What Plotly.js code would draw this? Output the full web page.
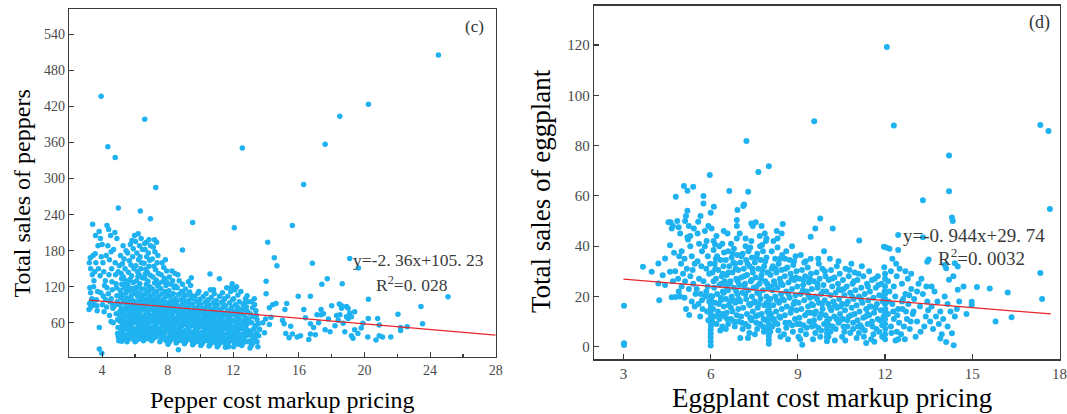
<!DOCTYPE html>
<html>
<head>
<meta charset="utf-8">
<script src="https://cdn.plot.ly/plotly-3.0.1.min.js"></script>
<style>
html,body{margin:0;padding:0;background:#fff;}
#chart{width:1067px;height:414px;}
</style>
</head>
<body>
<div id="chart"></div>
<script>
// ---------- Panel (c): pepper  [markup pricing, total sales] ----------
const pepperPoints = [
[3.22,160],[3.28,168],[3.3,150],[3.25,118],[3.3,110],[3.24,92],[3.32,86],[3.2,82],[3.38,100],[3.42,224],[3.4,140],[3.45,172],[3.5,130],[3.48,120],[3.55,145],[3.58,175],[3.6,205],[3.62,160],[3.65,98],[3.68,88],[3.7,80],[3.72,112],[3.75,188],[3.78,150],[3.35,96],[3.52,90],
[3.83,52],[3.83,16],[3.98,9],[3.94,437],[3.82,212],[3.9,200],[3.95,170],[4.0,190],[4.05,160],[3.88,138],[4.1,145],[4.15,122],[4.2,130],[3.92,110],[4.08,104],[4.22,98],[4.02,90],[4.28,86],[4.3,222],[4.35,188],[4.4,215],[4.42,140],[4.45,165],[4.3,118],[4.38,108],[4.48,95],[4.25,172],[4.35,353],[4.12,78],[4.45,72],
[4.52,205],[4.55,178],[4.58,150],[4.6,128],[4.62,115],[4.56,100],[4.64,90],[4.66,84],[4.55,62],[4.68,60],[4.7,182],[4.8,335],[4.78,210],[4.8,160],[4.82,140],[4.85,125],[4.88,118],[4.9,105],[4.92,95],[4.76,88],[4.86,75],[4.95,65],[4.9,200],[4.99,251],[4.98,145],[4.97,52],[4.94,42],[4.99,36],
[5.02,30],[5.1,34],[5.05,38],[5.2,41],[5.15,45],[5.3,48],[5.08,52],[5.25,55],[5.4,58],[5.12,62],[5.35,65],[5.22,68],[5.45,71],[5.03,74],[5.28,77],[5.38,80],[5.18,84],[5.48,87],[5.06,90],[5.32,93],[5.42,97],[5.14,101],[5.26,105],[5.46,110],[5.1,114],[5.36,118],[5.2,124],[5.44,130],[5.3,136],[5.16,142],[5.4,150],[5.24,158],[5.34,166],[5.12,172],[5.46,180],[5.28,188],[5.38,40],[5.44,33],[5.2,29],[5.34,57],[5.48,62],[5.06,66],[5.16,108],[5.4,122],[5.05,155],
[5.52,28],[5.6,32],[5.7,36],[5.55,40],[5.8,43],[5.65,46],[5.9,50],[5.58,53],[5.75,56],[5.85,59],[5.62,62],[5.95,65],[5.72,68],[5.54,71],[5.88,74],[5.68,77],[5.8,80],[5.57,84],[5.92,87],[5.74,90],[5.64,94],[5.86,97],[5.52,101],[5.78,105],[5.96,109],[5.66,113],[5.84,117],[5.58,122],[5.9,127],[5.7,132],[5.8,138],[5.6,144],[5.94,150],[5.76,156],[5.66,163],[5.86,170],[5.56,176],[5.9,183],[5.72,190],[5.82,197],[5.98,205],[5.62,48],[5.86,38],[5.94,31],[5.7,84],[5.96,92],[5.55,115],
[6.02,28],[6.1,31],[6.2,35],[6.05,38],[6.3,41],[6.15,44],[6.4,47],[6.08,50],[6.25,53],[6.35,56],[6.12,59],[6.45,62],[6.22,65],[6.04,68],[6.38,71],[6.18,74],[6.3,77],[6.07,80],[6.42,83],[6.24,86],[6.14,89],[6.36,92],[6.02,95],[6.28,98],[6.46,101],[6.16,104],[6.34,108],[6.08,112],[6.4,116],[6.2,120],[6.3,125],[6.1,130],[6.44,135],[6.26,140],[6.16,145],[6.36,150],[6.06,155],[6.4,160],[6.22,165],[6.32,170],[6.12,176],[6.46,182],[6.28,188],[6.04,195],[6.38,200],[6.2,208],[6.33,246],[6.14,42],[6.42,36],[6.32,63],[6.48,88],[6.06,118],[6.26,33],
[6.52,30],[6.6,33],[6.7,37],[6.55,40],[6.8,43],[6.65,46],[6.9,49],[6.58,52],[6.75,55],[6.85,58],[6.62,61],[6.95,64],[6.72,67],[6.54,70],[6.88,73],[6.68,76],[6.8,79],[6.57,82],[6.92,85],[6.74,88],[6.64,91],[6.86,94],[6.52,97],[6.78,100],[6.96,104],[6.66,108],[6.84,112],[6.58,116],[6.9,120],[6.7,124],[6.8,129],[6.6,134],[6.94,139],[6.76,144],[6.66,149],[6.86,154],[6.56,159],[6.9,164],[6.72,170],[6.82,176],[6.62,182],[6.96,188],[6.7,194],[6.6,192],[6.86,198],[6.6,399],[6.95,233],[6.74,47],[6.92,36],[6.62,80],[6.84,102],
[7.02,30],[7.1,33],[7.2,37],[7.05,40],[7.3,43],[7.15,46],[7.4,49],[7.08,52],[7.25,55],[7.35,58],[7.12,61],[7.45,64],[7.22,67],[7.04,70],[7.38,73],[7.18,76],[7.3,79],[7.07,82],[7.42,85],[7.24,88],[7.14,91],[7.36,94],[7.02,97],[7.28,100],[7.46,104],[7.16,108],[7.34,112],[7.08,116],[7.4,121],[7.2,126],[7.3,131],[7.1,136],[7.44,142],[7.26,148],[7.16,154],[7.36,160],[7.06,166],[7.4,172],[7.22,178],[7.12,186],[7.32,194],[7.2,198],[7.27,285],[7.28,36],[7.44,44],[7.12,72],[7.48,90],
[7.52,28],[7.6,32],[7.7,35],[7.55,39],[7.8,42],[7.65,45],[7.9,48],[7.58,51],[7.75,54],[7.85,57],[7.62,60],[7.95,63],[7.72,66],[7.54,69],[7.88,72],[7.68,75],[7.8,78],[7.57,81],[7.92,84],[7.74,87],[7.64,90],[7.86,93],[7.52,96],[7.78,100],[7.96,104],[7.66,108],[7.84,112],[7.58,117],[7.9,122],[7.7,128],[7.8,134],[7.6,140],[7.94,146],[7.76,152],[7.66,160],[7.86,165],[7.7,41],[7.9,30],[7.62,86],[7.98,110],
[8.02,24],[8.1,28],[8.2,31],[8.05,35],[8.3,38],[8.15,41],[8.4,44],[8.08,47],[8.25,50],[8.35,53],[8.12,56],[8.45,59],[8.22,62],[8.04,65],[8.38,68],[8.18,71],[8.3,74],[8.07,77],[8.42,80],[8.24,83],[8.14,86],[8.36,89],[8.02,92],[8.28,96],[8.46,100],[8.16,104],[8.34,108],[8.08,113],[8.4,118],[8.2,124],[8.3,130],[8.1,136],[8.44,142],[8.26,146],[8.36,44],[8.48,32],[8.12,95],[8.44,65],
[8.52,26],[8.6,29],[8.7,33],[8.55,36],[8.8,39],[8.65,42],[8.9,45],[8.58,48],[8.75,51],[8.85,54],[8.62,57],[8.95,60],[8.72,63],[8.54,66],[8.88,69],[8.68,72],[8.8,75],[8.57,78],[8.92,81],[8.74,84],[8.64,87],[8.86,90],[8.52,94],[8.78,98],[8.96,102],[8.66,107],[8.84,112],[8.58,118],[8.9,124],[8.7,130],[8.65,15],[8.62,140],[8.68,41],[8.98,34],[8.82,62],[8.9,181],
[9.02,25],[9.1,28],[9.2,32],[9.05,35],[9.3,38],[9.15,41],[9.4,44],[9.08,47],[9.25,50],[9.35,53],[9.12,56],[9.45,59],[9.22,62],[9.04,65],[9.38,68],[9.18,71],[9.3,74],[9.07,77],[9.42,80],[9.24,83],[9.14,86],[9.36,89],[9.02,93],[9.28,97],[9.46,101],[9.16,106],[9.34,111],[9.08,116],[9.4,122],[9.44,135],[9.26,128],[9.48,30],[9.34,44],[9.12,68],
[9.52,23],[9.6,26],[9.7,30],[9.55,33],[9.8,36],[9.65,39],[9.9,42],[9.58,45],[9.75,48],[9.85,51],[9.62,54],[9.95,57],[9.72,60],[9.54,63],[9.88,66],[9.68,69],[9.8,72],[9.57,75],[9.92,78],[9.74,81],[9.64,84],[9.86,87],[9.52,91],[9.78,95],[9.96,99],[9.66,104],[9.84,109],[9.52,227],[9.9,112],[9.7,28],[9.94,40],[9.6,100],
[10.02,22],[10.1,25],[10.2,29],[10.05,32],[10.3,35],[10.15,38],[10.4,41],[10.08,44],[10.25,47],[10.35,50],[10.12,53],[10.45,56],[10.22,59],[10.04,62],[10.38,65],[10.18,68],[10.3,71],[10.07,74],[10.42,77],[10.24,80],[10.14,83],[10.36,86],[10.02,90],[10.28,94],[10.46,98],[10.16,103],[10.34,108],[10.44,30],[10.26,36],[10.1,57],[10.48,88],
[10.52,21],[10.6,24],[10.7,28],[10.55,31],[10.8,34],[10.65,37],[10.9,40],[10.58,43],[10.75,46],[10.85,49],[10.62,52],[10.95,55],[10.72,58],[10.54,61],[10.88,64],[10.68,67],[10.8,70],[10.57,73],[10.92,76],[10.74,79],[10.64,82],[10.86,85],[10.52,89],[10.78,93],[10.96,97],[10.66,102],[10.84,108],[10.58,141],[10.6,115],[10.8,115],[10.94,26],[10.8,60],
[11.02,20],[11.1,23],[11.2,27],[11.05,30],[11.3,33],[11.15,36],[11.4,39],[11.08,42],[11.25,45],[11.35,48],[11.12,51],[11.45,54],[11.22,57],[11.04,60],[11.38,63],[11.18,66],[11.3,69],[11.07,72],[11.42,75],[11.24,78],[11.14,81],[11.36,85],[11.02,89],[11.28,94],[11.46,99],[11.16,104],[11.34,110],[11.15,133],[11.44,100],[11.48,26],[11.1,48],
[11.52,19],[11.6,22],[11.7,26],[11.55,29],[11.8,32],[11.65,35],[11.9,38],[11.58,41],[11.75,44],[11.85,47],[11.62,50],[11.95,53],[11.72,56],[11.54,59],[11.88,62],[11.68,65],[11.8,68],[11.57,71],[11.92,74],[11.74,77],[11.64,80],[11.86,84],[11.52,88],[11.78,93],[11.96,98],[11.66,104],[11.84,112],[11.9,119],[11.93,125],[11.6,118],[11.7,20],[11.94,30],
[12.02,20],[12.1,24],[12.2,28],[12.05,31],[12.3,34],[12.15,38],[12.4,41],[12.08,44],[12.25,47],[12.35,50],[12.12,54],[12.45,57],[12.22,60],[12.04,63],[12.38,66],[12.18,70],[12.3,74],[12.07,78],[12.42,82],[12.24,86],[12.14,90],[12.36,95],[12.02,100],[12.28,106],[12.46,112],[12.2,120],[12.06,218],[12.1,115],[12.34,24],
[12.52,22],[12.6,26],[12.7,30],[12.55,34],[12.8,38],[12.65,42],[12.9,46],[12.58,50],[12.75,54],[12.85,58],[12.62,62],[12.95,66],[12.72,70],[12.54,74],[12.88,78],[12.68,82],[12.8,86],[12.6,90],[12.92,95],[12.74,100],[12.84,105],[12.55,351],[12.9,28],[12.66,92],
[13.02,18],[13.1,22],[13.2,26],[13.05,30],[13.3,34],[13.15,38],[13.4,42],[13.08,46],[13.25,50],[13.35,55],[13.12,60],[13.45,65],[13.22,70],[13.04,75],[13.38,80],[13.18,85],[13.3,90],[13.5,20],[13.45,28],[13.55,38],[13.12,95],[13.28,100],[13.4,72],[13.52,58],[13.58,48],
[14.1,194],[14.5,168],[14.66,155],[14.0,129],[14.0,108],[15.96,104],[16.7,104],[14.4,90],[14.2,85],[14.6,92],[15.26,92],[15.15,82],[16.3,82],[17.35,82],[17.35,73],[17.1,73],[18.6,88],[19.0,84],[18.5,73],[18.9,70],[13.97,66],[14.3,69],[15.0,64],[13.8,60],[14.2,57],[15.1,58],[15.5,54],[16.7,58],[13.6,49],[13.9,43],[15.2,42],[15.6,41],[16.1,38],[16.7,41],[15.4,35],[15.9,36],
[16.9,52],[17.2,60],[17.5,75],[17.8,66],[18.0,88],[18.2,55],[17.0,40],[16.6,32],[17.9,45],[18.3,72],[16.4,68],[17.6,48],
[18.46,91],[18.6,84],[18.9,87],[19.1,76],[19.4,78],[19.0,67],[19.2,70],[20.23,67],[20.8,67],[18.4,64],[18.7,59],[19.9,59],[20.9,56],[22.2,52],[22.6,53],[18.8,45],[19.4,48],[19.8,51],[19.2,38],[19.6,42],[19.3,34],[20.2,36],[20.7,31],[20.9,38],[21.1,36],[21.6,36],[22.2,47],
[24.51,506],[20.24,424],[18.49,404],[17.6,357],[16.29,290],[15.6,222],[16.82,159],[19.1,167],[19.63,151],[17.73,133],[17.4,124],[18.64,125],[25.09,103],[20.24,99],[23.44,87],[23.54,58],[22.04,74]
];
// additional points (c)
const pepperCorePoints = [
[5.23,35],[5.41,52],[5.09,79],[5.29,96],[5.47,116],[5.19,133],
[5.63,35],[5.83,66],[5.71,99],[5.59,129],[5.97,81],[5.77,44],
[6.09,45],[6.29,72],[6.47,106],[6.19,137],[6.43,57],[6.33,86],
[6.59,42],[6.83,68],[6.71,92],[6.93,118],[6.63,141],[6.79,33],
[7.09,47],[7.33,65],[7.21,99],[7.47,126],[7.13,82],[7.39,39],
[7.59,44],[7.83,62],[7.71,96],[7.93,128],[7.63,76],[7.81,34],
[8.09,52],[8.31,66],[8.21,91],[8.47,121],[8.13,38],[8.39,79],
[8.59,40],[8.81,58],[8.71,86],[8.93,109],[8.63,70],[8.87,30],
[9.09,38],[9.31,57],[9.21,79],[9.47,105],[9.13,95],[9.39,33],
[9.59,37],[9.81,55],[9.71,77],[9.93,92],[9.63,66],[9.87,29],
[10.09,35],[10.31,52],[10.21,76],[10.43,96],[10.13,28],[10.39,67],
[10.59,34],[10.81,52],[10.71,75],[10.91,88],[10.63,45],[10.87,29],
[11.09,33],[11.31,51],[11.21,74],[11.43,90],[11.13,25],[11.39,62],
[11.59,33],[11.81,50],[11.71,72],[11.91,86],[11.63,24],[11.87,42],
[12.11,36],[12.33,56],[12.21,80],[12.41,30],[12.17,46],
[12.61,36],[12.83,48],[12.71,64],[12.93,40],[12.57,30]
];
const pepperFit = {slope: -2.36, intercept: 105.23};
const pepperFitRange = [3.2, 28];

// ---------- Panel (d): eggplant  [markup pricing, total sales] ----------
const eggplantPoints = [
[3.02,16.3],[3.02,1.4],[3.02,0.7],
[3.67,31.8],[3.97,29.8],[4.2,33.1],[4.35,28.4],[4.2,25.1],[4.43,24.5],[4.23,18.5],[4.6,29.8],[4.43,35.1],[4.6,40.4],[4.55,49.5],
[4.62,49.5],[4.66,47],[4.7,48],[4.8,59.6],[4.74,37.4],[4.85,50],[4.9,47.5],[4.95,45],[5.08,63.9],[5.2,62],[5.4,63.6],[5.2,54.1],[5.15,52],[5.12,50],[5.25,48],[5.2,43.5],[5.22,42.6],[5.3,40],[5.0,38],[4.92,36],[5.1,35],[5.35,36],[4.98,33],[5.18,31],[5.45,33],[5.05,29],[5.3,28],[4.88,27],[5.12,26],[5.4,25],[5.0,24],[5.25,23],[4.9,22],[5.48,21],[4.66,19.7],[4.8,19.8],[4.95,20],[5.1,19.5],[5.26,12.6],[5.35,18],[5.45,16],[5.15,15],[5.3,44],[5.42,47],[4.78,30],[4.7,26],[5.38,30.5],
[5.57,49.7],[5.75,59.9],[5.75,57],[5.64,12],[5.55,45],[5.6,41],[5.7,38],[5.8,40],[5.9,36],[5.55,34],[5.68,32],[5.85,31],[5.95,29],[5.6,27],[5.75,26],[5.9,24],[5.52,23],[5.66,21],[5.82,20],[5.95,18],[5.58,17],[5.72,15],[5.88,14],[5.8,46],[5.92,48],[5.65,52],[5.85,22],[5.98,33],[5.7,18.5],[5.92,10.5],[5.97,68.3],[5.86,42],
[6.0,0.5],[6.0,2.2],[6.0,3.8],[6.0,5.3],[6.0,6.8],[6.01,8.2],[6.0,9.6],[6.0,11],[6.01,12.4],[6.0,13.8],[6.0,15.3],[6.0,17],[6.01,18.6],[6.0,20.2],[6.0,53.3],[6.03,47],[6.11,55.7],[6.1,42],[6.15,40.7],
[6.05,10],[6.12,12],[6.2,9],[6.3,11],[6.4,13],[6.08,15],[6.25,14],[6.45,16],[6.15,17.5],[6.35,18.5],[6.05,20],[6.22,21],[6.42,22],[6.12,23.5],[6.3,24.5],[6.48,26],[6.18,27],[6.38,28],[6.06,29.5],[6.26,30.5],[6.44,32],[6.14,33],[6.34,34.5],[6.22,36],[6.46,37.5],[6.1,38.5],[6.3,40],[6.4,41],[6.2,44],[6.45,46],[6.35,19.5],[6.1,26],[6.28,17],[6.48,12],[6.4,8],[6.16,31],[6.36,25],
[6.52,7],[6.6,9],[6.7,11],[6.8,10],[6.9,12.5],[6.55,13.5],[6.75,14],[6.95,15],[6.62,16.5],[6.85,17.5],[6.52,19],[6.72,20],[6.92,21],[6.6,22.5],[6.8,23.5],[6.98,24.5],[6.68,26],[6.88,27],[6.55,28.5],[6.75,29.5],[6.95,30.5],[6.64,32],[6.84,33],[6.52,34.5],[6.72,35.5],[6.92,36.5],[6.6,38],[6.8,39],[6.7,41],[6.9,43],[6.64,61.9],[6.92,54.4],[6.9,50.4],[6.9,48],[6.58,45],[6.78,18.5],[6.66,25],[6.86,31],[6.96,10],[6.54,24],[6.76,37],
[7.02,3.5],[7.1,7],[7.2,9],[7.3,8],[7.4,10.5],[7.05,12],[7.25,13],[7.45,14],[7.12,15.5],[7.35,16.5],[7.02,18],[7.22,19],[7.42,20],[7.1,21.5],[7.3,22.5],[7.48,23.5],[7.18,25],[7.38,26],[7.05,27.5],[7.25,28.5],[7.45,29.5],[7.14,31],[7.34,32],[7.02,33.5],[7.22,34.5],[7.42,35.5],[7.1,37],[7.3,38],[7.2,40],[7.4,42],[7.0,45],[7.2,43],[7.23,81.8],[7.29,61.6],[7.15,56.6],[7.12,56],[7.4,49],[7.45,48],[7.32,17],[7.16,24],[7.44,31],[7.36,11.5],[7.28,3.5],
[7.52,5],[7.6,7],[7.7,9],[7.8,8],[7.9,10.5],[7.55,12],[7.75,13],[7.95,14],[7.62,15.5],[7.85,16.5],[7.52,18],[7.72,19],[7.92,20],[7.6,21.5],[7.8,22.5],[7.98,23.5],[7.68,25],[7.88,26],[7.55,27.5],[7.75,28.5],[7.95,29.5],[7.64,31],[7.84,32],[7.52,33.5],[7.72,34.5],[7.92,35.5],[7.6,37],[7.8,38],[7.7,40],[7.9,42],[7.55,49.5],[7.64,69.5],[7.75,48],[7.86,45],[7.92,43],[7.66,17],[7.82,11],[7.58,24],[7.78,30.5],[7.94,25],
[8.0,1.2],[8.0,2.8],[8.0,4.3],[8.0,5.8],[8.01,7.3],[8.0,8.8],[8.0,10.3],[8.01,11.8],[8.0,13.3],[8.0,14.8],[8.0,16.5],[8.0,18.2],[8.0,71.8],
[8.05,6],[8.12,8],[8.2,10],[8.3,9],[8.4,11.5],[8.08,13],[8.25,14],[8.45,15],[8.15,16.5],[8.35,17.5],[8.05,19],[8.22,20],[8.42,21],[8.12,22.5],[8.3,23.5],[8.48,24.5],[8.18,26],[8.38,27],[8.06,28.5],[8.26,29.5],[8.44,30.5],[8.14,32],[8.34,33],[8.22,35],[8.46,36.5],[8.1,38],[8.3,39.5],[8.44,45],[8.48,48.8],[8.3,43],[8.4,4],[8.36,12],[8.2,25],[8.1,31],[8.28,18.5],
[8.52,5],[8.6,7.5],[8.7,9.5],[8.8,8.5],[8.9,11],[8.55,12.5],[8.75,13.5],[8.95,14.5],[8.62,16],[8.85,17],[8.52,18.5],[8.72,19.5],[8.92,20.5],[8.6,22],[8.8,23],[8.98,24],[8.68,25.5],[8.88,26.5],[8.55,28],[8.75,29],[8.95,30],[8.64,31.5],[8.84,32.5],[8.72,34.5],[8.92,36],[8.6,38],[8.8,40],[8.66,3],[8.9,18],[8.78,27],[8.56,35],
[9.02,4],[9.1,6.5],[9.2,8.5],[9.3,7.5],[9.4,10],[9.05,11.5],[9.25,12.5],[9.45,13.5],[9.12,15],[9.35,16],[9.02,17.5],[9.22,18.5],[9.42,19.5],[9.1,21],[9.3,22],[9.48,23],[9.18,24.5],[9.38,25.5],[9.05,27],[9.25,28],[9.45,29],[9.14,30.5],[9.34,31.5],[9.22,33.5],[9.44,35],[9.1,36.5],[9.44,43.7],[9.15,0.8],[9.28,5],[9.36,20.5],[9.2,26.5],
[9.52,3],[9.6,5.5],[9.7,7.5],[9.8,6.5],[9.9,9],[9.55,10.5],[9.75,11.5],[9.95,12.5],[9.62,14],[9.85,15],[9.52,16.5],[9.72,17.5],[9.92,18.5],[9.6,20],[9.8,21],[9.98,22],[9.68,23.5],[9.88,24.5],[9.55,26],[9.75,27],[9.95,28],[9.64,29.5],[9.84,31],[9.72,33],[9.56,89.7],[9.77,51],[9.6,47],[9.7,35],[9.9,38],[9.8,13],[9.66,19],
[10.0,2.2],[10.0,3.8],[10.0,5.4],[10.0,7],[10.0,8.6],[10.0,10.2],
[10.05,4],[10.12,6],[10.2,8],[10.3,7],[10.4,9.5],[10.08,11],[10.25,12],[10.45,13],[10.15,14.5],[10.35,15.5],[10.05,17],[10.22,18],[10.42,19],[10.12,20.5],[10.3,21.5],[10.48,22.5],[10.18,24],[10.38,25],[10.06,26.5],[10.26,27.5],[10.44,29],[10.14,30.5],[10.34,32],[10.2,47],[10.1,35],[10.4,34],[10.28,16.5],[10.46,10.5],
[10.52,4],[10.6,6],[10.7,8],[10.8,5.5],[10.9,9.5],[10.55,11],[10.75,12],[10.95,13],[10.62,14.5],[10.85,15.5],[10.52,17],[10.72,18],[10.92,19],[10.6,20.5],[10.8,21.5],[10.98,22.5],[10.68,24],[10.88,25],[10.55,26.5],[10.75,28],[10.95,29.5],[10.64,31],[10.84,33],[10.7,10.5],[10.9,7],[10.58,23],
[11.02,3.5],[11.1,5.5],[11.2,7.5],[11.3,6.5],[11.4,9],[11.05,10.5],[11.25,11.5],[11.45,12.5],[11.12,14],[11.35,15],[11.02,16.5],[11.22,17.5],[11.42,18.5],[11.1,20],[11.3,21],[11.48,22],[11.18,23.5],[11.38,25],[11.05,26.5],[11.25,28],[11.45,30],[11.11,42.2],[11.2,32],[11.35,1.5],[11.15,8.5],[11.4,13],
[11.52,3],[11.6,5],[11.7,7],[11.8,6],[11.9,8.5],[11.55,10],[11.75,11],[11.95,12],[11.62,13.5],[11.85,14.5],[11.52,16],[11.72,17],[11.92,18],[11.6,19.5],[11.8,20.5],[11.98,22],[11.68,23.5],[11.88,25],[11.55,26.5],[11.75,28],[11.97,31.6],[11.96,39.8],[11.65,27],[11.9,4],
[12.0,3],[12.0,5],[12.01,7],[12.0,9],[12.0,11],[12.0,13],[12.01,15],[12.0,17],[12.0,19],[12.0,21],[12.0,24],[12.0,27],[12.0,29],[12.06,119.2],[12.04,39.5],[12.15,39],[12.1,26],[12.2,30],[12.3,24],[12.4,28],[12.15,22],[12.35,20],[12.25,17],[12.45,15],[12.1,13],[12.3,11],[12.2,8],[12.4,6],[12.45,3],[12.3,88],[12.45,44.4],[12.45,38.5],[12.5,31],[12.38,33],[12.25,35],[12.12,18],[12.28,14],[12.48,9.5],[12.36,2.5],
[12.55,5],[12.65,8],[12.75,11],[12.85,7],[12.95,13],[12.6,15],[12.8,17],[13.0,19],[12.7,21],[12.9,23],[12.58,25],[12.78,27],[12.98,14],[13.1,10],[13.2,16],[13.3,21],[13.4,12],[13.15,25],[13.35,8],[13.05,4],[13.25,27],[13.45,18],[13.3,58.3],[13.3,43.5],[13.45,33.8],[13.5,34.7],[12.7,30],[12.9,29],[13.1,22],[13.42,24],[12.62,19],[12.88,10],[13.22,6],[13.48,14.5],
[13.55,10],[13.65,7],[13.75,12],[13.85,9],[13.6,16],[13.8,18],[13.7,22],[13.9,14],[13.95,5],[13.9,3.3],[14.05,32.5],[14.1,31.2],[14.1,1.9],[14.2,26.6],[14.2,76],[14.2,61.8],[14.3,51.4],[14.33,50],[14.4,33.2],[14.5,31.9],[14.3,5.4],[14.36,0.6],[14.47,15],[14.5,22.7],[14.15,17],[14.25,14],[14.05,20],[14.4,12],[14.15,8],[13.6,24],[14.35,28],[14.55,18],[14.0,11],
[14.98,17.9],[14.98,16.6],[15.16,23.8],[15.6,23.2],[16.22,21.6],[15.8,10],[16.35,11.7],[17.34,29.3],[17.4,19],[17.34,88.2],[17.62,85.8],[17.67,54.8],[14.7,24],[14.8,13]
];
// additional points (d)
const eggplantCorePoints = [
[6.33,6.5],[6.45,21.5],[6.18,35],[6.27,12.5],[6.42,29],
[6.57,11],[6.83,8],[6.67,18],[6.93,26],[6.78,33.5],[6.61,29.5],[6.97,19],[6.7,15.5],[6.88,22],
[7.07,9.5],[7.33,5.5],[7.47,17.5],[7.19,21],[7.41,26.5],[7.27,33],[7.06,36],[7.36,39.5],[7.15,28],
[7.57,9.5],[7.83,6],[7.67,21],[7.93,17.5],[7.73,27],[7.58,35.5],[7.88,34],[7.97,7],[7.63,12.5],[7.77,40.5],[7.69,44],
[8.17,11],[8.33,6.5],[8.47,19],[8.24,31],[8.41,25.5],[8.09,24],[8.39,35],[8.16,42],[8.27,46],
[8.57,9.5],[8.83,6],[8.67,21],[8.93,27.5],[8.77,15],[8.58,31],[8.87,34],[8.97,9],
[9.07,9],[9.33,13.5],[9.47,17],[9.17,22.5],[9.41,27],[9.27,34],[9.08,3],[9.48,8],
[9.57,8.5],[9.83,17],[9.67,25],[9.93,30],[9.77,4],[9.58,13],[9.87,22],
[10.07,8.5],[10.33,11],[10.47,16],[10.17,27],[10.41,23],[10.27,2.5],[10.11,15.5],
[10.57,8],[10.83,12.5],[10.67,17],[10.93,26],[10.77,30.5],[10.63,2.5],[10.87,20],
[11.07,8],[11.33,12],[11.47,16],[11.17,19],[11.41,24],[11.27,4],[11.08,29],
[11.57,8],[11.83,10.5],[11.67,15.5],[11.93,20],[11.77,24.5],[11.63,2],
[12.22,5.5],[12.42,12.5],[12.58,18],[12.72,14],[12.83,20.5],[12.68,3]
];
const eggplantFit = {slope: -0.944, intercept: 29.74};
const eggplantFitRange = [3, 17.7];

// ---------- tick labels ----------
const pepperXTicks = [4, 8, 12, 16, 20, 24, 28];
const pepperYTicks = [60, 120, 180, 240, 300, 360, 420, 480, 540];
const eggplantXTicks = [3, 6, 9, 12, 15, 18];
const eggplantYTicks = [0, 20, 40, 60, 80, 100, 120];

const W = 1067, H = 414;
const px = v => v / W;
const py = v => 1 - v / H;

const dotColor = '#1FB2F0';
const serif = 'Liberation Serif, Times New Roman, serif';

const pepperAll = pepperPoints.concat(pepperCorePoints);
const eggplantAll = eggplantPoints.concat(eggplantCorePoints);

function fitLine(fit, range) {
  return {x: range, y: range.map(v => fit.slope * v + fit.intercept)};
}
const pf = fitLine(pepperFit, pepperFitRange);
const ef = fitLine(eggplantFit, eggplantFitRange);

const traces = [
  {type: 'scatter', mode: 'markers', x: pepperAll.map(p => p[0]), y: pepperAll.map(p => p[1]),
   xaxis: 'x', yaxis: 'y', marker: {color: dotColor, size: 5.5, line: {width: 0}}},
  {type: 'scatter', mode: 'lines', x: pf.x, y: pf.y, xaxis: 'x', yaxis: 'y',
   line: {color: '#E8262C', width: 1.3}},
  {type: 'scatter', mode: 'markers', x: eggplantAll.map(p => p[0]), y: eggplantAll.map(p => p[1]),
   xaxis: 'x2', yaxis: 'y2', marker: {color: dotColor, size: 6, line: {width: 0}}},
  {type: 'scatter', mode: 'lines', x: ef.x, y: ef.y, xaxis: 'x2', yaxis: 'y2',
   line: {color: '#E8262C', width: 1.3}}
];

const axisBase = {
  showgrid: false, zeroline: false, showline: true, mirror: true,
  linecolor: '#3a3a3a', linewidth: 1.6, ticks: 'inside', ticklen: 5, tickwidth: 1.2,
  tickcolor: '#3a3a3a', fixedrange: true
};

const layout = {
  width: W, height: H,
  margin: {l: 0, r: 0, t: 0, b: 0},
  paper_bgcolor: '#ffffff', plot_bgcolor: '#ffffff',
  showlegend: false,
  xaxis: Object.assign({}, axisBase, {
    domain: [px(69.3), px(495.7)], range: [2, 28], anchor: 'y',
    tickmode: 'array', tickvals: pepperXTicks, ticktext: pepperXTicks.map(String),
    minor: {dtick: 2, tick0: 0, ticks: 'inside', ticklen: 3, tickcolor: '#3a3a3a'},
    tickfont: {family: serif, size: 14, color: '#4a4a4a'}
  }),
  yaxis: Object.assign({}, axisBase, {
    domain: [py(356.7), py(9.3)], range: [3.3, 582], anchor: 'x',
    tickmode: 'array', tickvals: pepperYTicks, ticktext: pepperYTicks.map(String),
    tickfont: {family: serif, size: 14, color: '#4a4a4a'}
  }),
  xaxis2: Object.assign({}, axisBase, {
    domain: [px(594.4), px(1059.5)], range: [2, 18], anchor: 'y2',
    tickmode: 'array', tickvals: eggplantXTicks, ticktext: eggplantXTicks.map(String),
    tickfont: {family: serif, size: 15, color: '#4a4a4a'}
  }),
  yaxis2: Object.assign({}, axisBase, {
    domain: [py(359.3), py(6)], range: [-5, 135.5], anchor: 'x2',
    tickmode: 'array', tickvals: eggplantYTicks, ticktext: eggplantYTicks.map(String),
    tickfont: {family: serif, size: 15, color: '#4a4a4a'}
  }),
  annotations: [
    {text: 'Pepper cost markup pricing', x: px(282), y: py(400), xref: 'paper', yref: 'paper',
     xanchor: 'center', yanchor: 'middle', showarrow: false, font: {family: serif, size: 24, color: '#000'}},
    {text: 'Total sales of peppers', x: px(21), y: py(193.5), xref: 'paper', yref: 'paper', textangle: -90,
     xanchor: 'center', yanchor: 'middle', showarrow: false, font: {family: serif, size: 24, color: '#000'}},
    {text: 'Eggplant cost markup pricing', x: px(832), y: py(398), xref: 'paper', yref: 'paper',
     xanchor: 'center', yanchor: 'middle', showarrow: false, font: {family: serif, size: 27, color: '#000'}},
    {text: 'Total sales of eggplant', x: px(541), y: py(191), xref: 'paper', yref: 'paper', textangle: -90,
     xanchor: 'center', yanchor: 'middle', showarrow: false, font: {family: serif, size: 27, color: '#000'}},
    {text: '(c)', x: px(474), y: py(26), xref: 'paper', yref: 'paper',
     xanchor: 'center', yanchor: 'middle', showarrow: false, font: {family: serif, size: 17, color: '#333'}},
    {text: 'y=-2. 36x+105. 23', x: px(418), y: py(260), xref: 'paper', yref: 'paper',
     xanchor: 'center', yanchor: 'middle', showarrow: false, font: {family: serif, size: 17.5, color: '#3a3a3a'}},
    {text: 'R<sup>2</sup>=0. 028', x: px(412), y: py(284), xref: 'paper', yref: 'paper',
     xanchor: 'center', yanchor: 'middle', showarrow: false, font: {family: serif, size: 17.5, color: '#3a3a3a'}},
    {text: '(d)', x: px(1039), y: py(22), xref: 'paper', yref: 'paper',
     xanchor: 'center', yanchor: 'middle', showarrow: false, font: {family: serif, size: 18, color: '#333'}},
    {text: 'y=-0. 944x+29. 74', x: px(974), y: py(235), xref: 'paper', yref: 'paper',
     xanchor: 'center', yanchor: 'middle', showarrow: false, font: {family: serif, size: 19, color: '#3a3a3a'}},
    {text: 'R<sup>2</sup>=0. 0032', x: px(981), y: py(257), xref: 'paper', yref: 'paper',
     xanchor: 'center', yanchor: 'middle', showarrow: false, font: {family: serif, size: 19, color: '#3a3a3a'}}
  ]
};

Plotly.newPlot('chart', traces, layout, {displayModeBar: false, staticPlot: true});
</script>
</body>
</html>
